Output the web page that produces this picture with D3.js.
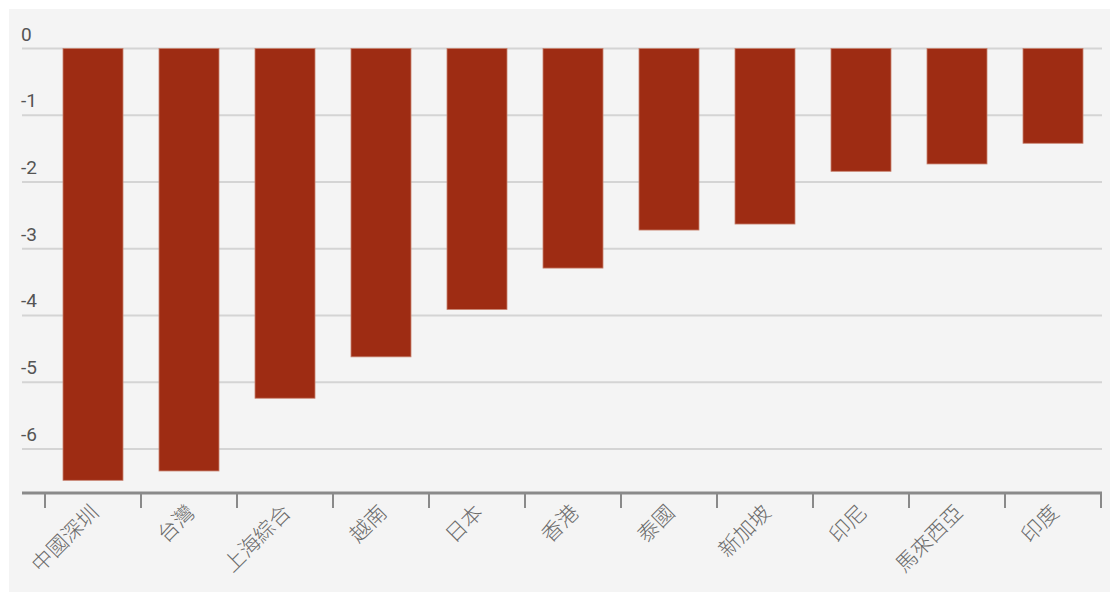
<!DOCTYPE html>
<html>
<head>
<meta charset="utf-8">
<script src="https://cdn.jsdelivr.net/npm/d3@7"></script>
<style>
  body { margin: 0; background: #fff; }
  .grid line { stroke: #d4d4d4; stroke-width: 2; }
  .y-label { font-family: Roboto, "Noto Sans", sans-serif; font-size: 19px; fill: #555; }
  .x-label { font-family: "Noto Sans CJK TC", sans-serif; font-size: 21px; font-weight: 300; fill: #6a6a6a; }
</style>
</head>
<body>
<script>
// data
var categories = ["中國深圳", "台灣", "上海綜合", "越南", "日本", "香港", "泰國", "新加坡", "印尼", "馬來西亞", "印度"];
var values = [-6.47, -6.33, -5.24, -4.62, -3.91, -3.29, -2.72, -2.63, -1.84, -1.73, -1.42];
var yTicks = [0, -1, -2, -3, -4, -5, -6];
var yMin = -6.66;

var dataset = categories.map(function(c, i) { return {name: c, value: values[i]}; });

var width = 1110, height = 592;

var svg = d3.select("body").append("svg")
    .attr("width", width)
    .attr("height", height);

// panel background
svg.append("rect")
    .attr("x", 9).attr("y", 9)
    .attr("width", width - 9).attr("height", height - 9)
    .attr("fill", "#f4f4f4");

var xScale = d3.scaleBand()
    .domain(categories)
    .range([45, 1101])
    .paddingInner(0.375)
    .paddingOuter(0.1875);

var yScale = d3.scaleLinear()
    .domain([yMin, 0])
    .range([493, 48.5]);

// gridlines
svg.append("g")
    .attr("class", "grid")
    .selectAll("line")
    .data(yTicks)
  .enter().append("line")
    .attr("x1", 22).attr("x2", 1102)
    .attr("y1", function(d) { return yScale(d); })
    .attr("y2", function(d) { return yScale(d); });

// y labels sit above their gridline
svg.append("g")
    .selectAll("text")
    .data(yTicks)
  .enter().append("text")
    .attr("class", "y-label")
    .attr("x", 21)
    .attr("y", function(d) { return yScale(d) - 8; })
    .text(function(d) { return d === 0 ? "0" : "-" + Math.abs(d); });

// bars
svg.append("g")
    .selectAll("rect")
    .data(dataset)
  .enter().append("rect")
    .attr("x", function(d) { return xScale(d.name); })
    .attr("y", yScale(0))
    .attr("width", xScale.bandwidth())
    .attr("height", function(d) { return yScale(d.value) - yScale(0); })
    .attr("fill", "#9e2c13")
    .attr("stroke", "#c8826f")
    .attr("stroke-width", 0.8);

// x axis at the bottom
svg.append("line")
    .attr("x1", 22).attr("x2", 1102)
    .attr("y1", 493).attr("y2", 493)
    .attr("stroke", "#8a8a8a")
    .attr("stroke-width", 3);

var step = xScale.step();
var tickPos = d3.range(categories.length + 1).map(function(i) { return 45 + i * step; });
svg.append("g")
    .selectAll("line")
    .data(tickPos)
  .enter().append("line")
    .attr("x1", function(d) { return d; })
    .attr("x2", function(d) { return d; })
    .attr("y1", 493).attr("y2", 508)
    .attr("stroke", "#8a8a8a")
    .attr("stroke-width", 2);

svg.append("g")
    .selectAll("text")
    .data(categories)
  .enter().append("text")
    .attr("class", "x-label")
    .attr("text-anchor", "end")
    .attr("transform", function(d) {
        var cx = xScale(d) + xScale.bandwidth() / 2;
        return "translate(" + (cx + 7) + ",514) rotate(-45)";
    })
    .text(function(d) { return d; });
</script>
</body>
</html>
